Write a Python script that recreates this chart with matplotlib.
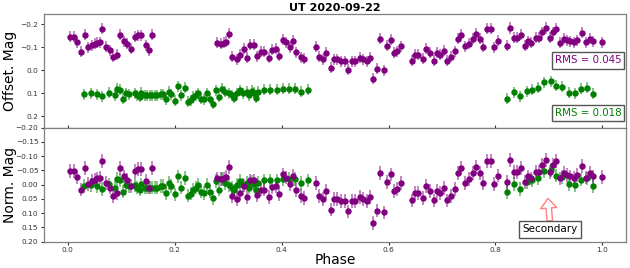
import numpy as np
import matplotlib; matplotlib.use("Agg")
import matplotlib.pyplot as plt

# ---- data (offset magnitudes, top panel)
phase_p = [0.004, 0.012, 0.018, 0.025, 0.032, 0.039, 0.045, 0.051, 0.055, 0.060, 0.065, 0.072, 0.079,
           0.085, 0.092, 0.099, 0.105, 0.111, 0.118, 0.126, 0.132, 0.138, 0.146, 0.153, 0.158,
           0.280, 0.286, 0.292, 0.297, 0.302, 0.308, 0.316, 0.322, 0.330, 0.336, 0.342, 0.348, 0.354,
           0.361, 0.367, 0.377, 0.383, 0.389, 0.396, 0.403, 0.409, 0.416, 0.422, 0.428, 0.436, 0.442,
           0.464, 0.470, 0.478, 0.484, 0.492, 0.498, 0.504, 0.512, 0.518, 0.524, 0.532, 0.538, 0.546,
           0.553, 0.559, 0.565, 0.571, 0.579, 0.585, 0.591, 0.597, 0.604, 0.610, 0.616, 0.624,
           0.643, 0.649, 0.655, 0.664, 0.671, 0.677, 0.685, 0.691, 0.697, 0.703, 0.710, 0.716, 0.724,
           0.730, 0.736, 0.743, 0.750, 0.758, 0.764, 0.771, 0.777, 0.784, 0.791, 0.797, 0.804,
           0.821, 0.827, 0.834, 0.840, 0.847, 0.855, 0.861, 0.867, 0.875, 0.881, 0.887, 0.894, 0.901,
           0.908, 0.914, 0.921, 0.928, 0.934, 0.940, 0.946, 0.953, 0.962, 0.969, 0.976, 0.982, 0.999]
mag_p = [-0.145, -0.145, -0.123, -0.080, -0.155, -0.100, -0.109, -0.115, -0.119, -0.122, -0.181, -0.102, -0.087,
         -0.058, -0.068, -0.155, -0.126, -0.115, -0.093, -0.145, -0.152, -0.152, -0.109, -0.087, -0.155,
         -0.119, -0.116, -0.119, -0.125, -0.160, -0.058, -0.047, -0.068, -0.094, -0.054, -0.112, -0.112, -0.061,
         -0.080, -0.080, -0.054, -0.090, -0.093, -0.064, -0.133, -0.122, -0.100, -0.129, -0.078, -0.057, -0.051,
         -0.102, -0.058, -0.047, -0.076, -0.010, -0.047, -0.047, -0.039, -0.039, -0.003, -0.039, -0.039, -0.054,
         -0.047, -0.039, -0.054, 0.037, -0.006, -0.137, 0.000, -0.107, -0.133, -0.076, -0.083, -0.104,
         -0.042, -0.068, -0.068, -0.050, -0.093, -0.076, -0.042, -0.076, -0.068, -0.086, -0.042, -0.058, -0.083,
         -0.137, -0.155, -0.104, -0.116, -0.137, -0.158, -0.137, -0.102, -0.180, -0.180, -0.100, -0.129,
         -0.107, -0.184, -0.141, -0.141, -0.155, -0.107, -0.126, -0.119, -0.141, -0.141, -0.165, -0.184, -0.141,
         -0.165, -0.180, -0.119, -0.137, -0.130, -0.126, -0.122, -0.130, -0.163, -0.122, -0.137, -0.126, -0.123]

phase_g = [0.030, 0.043, 0.055, 0.065, 0.078, 0.088, 0.093, 0.099, 0.104, 0.109, 0.115, 0.126, 0.130,
           0.135, 0.138, 0.144, 0.149, 0.154, 0.158, 0.163, 0.168, 0.174, 0.179, 0.184, 0.190, 0.194,
           0.201, 0.207, 0.213, 0.219, 0.225, 0.230, 0.235, 0.240, 0.244, 0.250, 0.255, 0.260, 0.266,
           0.272, 0.277, 0.283, 0.289, 0.295, 0.302, 0.307, 0.311, 0.316, 0.322, 0.328, 0.335, 0.339,
           0.344, 0.348, 0.353, 0.356, 0.367, 0.378, 0.391, 0.402, 0.414, 0.425, 0.436, 0.449,
           0.822, 0.834, 0.845, 0.858, 0.868, 0.880, 0.891, 0.903, 0.914, 0.925, 0.937, 0.948, 0.959,
           0.971, 0.982]
mag_g = [0.104, 0.101, 0.104, 0.113, 0.098, 0.109, 0.080, 0.084, 0.123, 0.101, 0.104, 0.101, 0.109,
         0.116, 0.098, 0.109, 0.109, 0.109, 0.109, 0.109, 0.109, 0.104, 0.104, 0.127, 0.094, 0.104,
         0.133, 0.070, 0.109, 0.075, 0.137, 0.130, 0.116, 0.109, 0.101, 0.123, 0.127, 0.101, 0.123,
         0.145, 0.087, 0.116, 0.080, 0.094, 0.101, 0.109, 0.119, 0.101, 0.087, 0.101, 0.094, 0.109,
         0.090, 0.098, 0.119, 0.094, 0.084, 0.084, 0.084, 0.080, 0.080, 0.080, 0.094, 0.084,
         0.124, 0.096, 0.113, 0.091, 0.084, 0.077, 0.052, 0.048, 0.067, 0.072, 0.098, 0.101, 0.081,
         0.077, 0.103]

MAG_ERR = 0.024
MEAN_P, MEAN_G = -0.097, 0.099     # subtracted for the normalized panel
RMS_P, RMS_G = 0.045, 0.018
SECONDARY_PHASE = 0.898

C_P, C_G = "purple", "green"

plt.rcParams.update({"font.family": "DejaVu Sans", "axes.edgecolor": "#808080",
                     "axes.linewidth": 0.9, "xtick.color": "#333333", "ytick.color": "#333333"})

fig = plt.figure(figsize=(6.3, 2.68), dpi=100)
L, R, T, M, B = 0.0698, 0.9937, 0.9478, 0.5235, 0.0981
ax1 = fig.add_axes([L, M, R - L, T - M])
ax2 = fig.add_axes([L, B, R - L, M - B], sharex=ax1)

for ax, xp, yp, xg, yg in [
    (ax1, phase_p, mag_p, phase_g, mag_g),
    (ax2, phase_p, np.array(mag_p) - MEAN_P, phase_g, np.array(mag_g) - MEAN_G),
]:
    for x, y, c in [(xg, yg, C_G), (xp, yp, C_P)]:
        eb = ax.errorbar(x, y, yerr=MAG_ERR, fmt="o", ms=3.6, color=c,
                         elinewidth=1.1, capsize=0)
        eb[2][0].set_alpha(0.6)

ax1.set_xlim(-0.044, 1.044)
ax1.set_ylim(0.25, -0.245)
ax1.set_yticks([-0.2, -0.1, 0.0, 0.1, 0.2])
ax1.set_yticklabels(["\u22120.2", "\u22120.1", "0.0", "0.1", "0.2"])
ax1.tick_params(axis="x", direction="in", labelbottom=False, length=2.5)
ax1.tick_params(axis="y", labelsize=5.3, length=2, pad=2)
ax1.set_ylabel("Offset. Mag", fontsize=10)
ax1.yaxis.set_label_coords(-0.046, 0.5)
ax1.set_title("UT 2020-09-22", fontsize=8, fontweight="bold", pad=2.5)

box = dict(boxstyle="square,pad=0.3", fc="white", ec="#555555", lw=1.0)
ax1.text(0.992, 0.591, f"RMS = {RMS_P:.3f}", transform=ax1.transAxes, ha="right", va="center",
         fontsize=7.4, color=C_P, bbox=box)
ax1.text(0.992, 0.127, f"RMS = {RMS_G:.3f}", transform=ax1.transAxes, ha="right", va="center",
         fontsize=7.4, color=C_G, bbox=box)

ax2.set_ylim(0.2, -0.2)
yt = [-0.20, -0.15, -0.10, -0.05, 0.0, 0.05, 0.10, 0.15, 0.20]
ax2.set_yticks(yt)
ax2.set_yticklabels([f"{v:.2f}".replace("-", "\u2212") for v in yt])
ax2.set_xticks([0.0, 0.2, 0.4, 0.6, 0.8, 1.0])
ax2.tick_params(axis="both", labelsize=5.3, length=2, pad=2)
ax2.set_ylabel("Norm. Mag", fontsize=10)
ax2.yaxis.set_label_coords(-0.046, 0.5)
ax2.set_xlabel("Phase", fontsize=10, labelpad=0)

ax2.annotate("Secondary", xy=(SECONDARY_PHASE, 0.048), xytext=(0.902, 0.157),
             ha="center", va="center", fontsize=7.5,
             bbox=dict(boxstyle="square,pad=0.3", fc="white", ec="#555555", lw=1.0),
             arrowprops=dict(facecolor="white", edgecolor="#ff8080", lw=1.0,
                             width=4.0, headwidth=11.5, headlength=7.0, shrink=0.0))

fig.savefig("out.png", dpi=100)
